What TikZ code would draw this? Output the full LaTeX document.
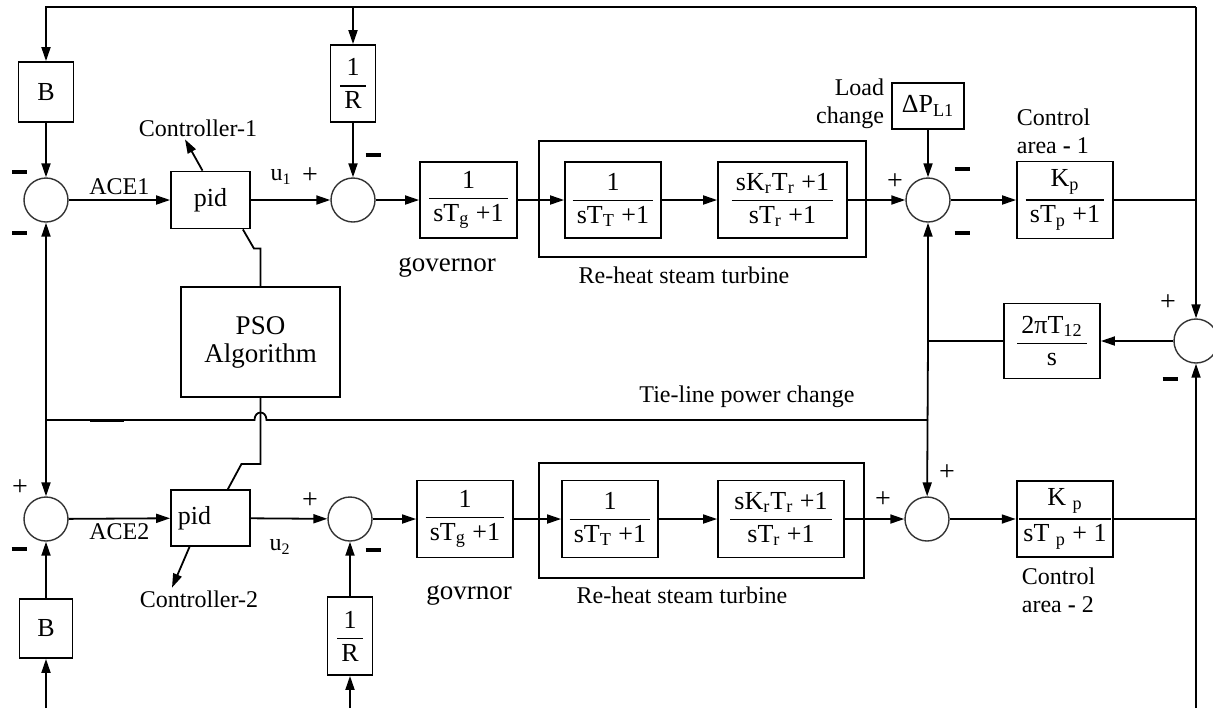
\documentclass[tikz,border=0pt]{standalone}
\usepackage{amsmath}
\usepackage{fontspec}
\setmainfont{Liberation Serif}
\usetikzlibrary{arrows.meta,positioning}

\newcommand{\frc}[2]{$\genfrac{}{}{0.8pt}{0}{\text{\,#1\,}}{\text{\,#2\,}}$}
\newcommand{\mns}{\rule{7.5pt}{1.9pt}}

\tikzset{
  blk/.style={draw, line width=0.9pt, inner sep=0pt, font=\fontsize{13}{15}\selectfont},
  sumc/.style={draw=black!80, circle, line width=0.7pt, minimum size=22pt, inner sep=0pt},
  lbl/.style={font=\fontsize{12}{14}\selectfont, inner sep=1pt},
  biglbl/.style={font=\fontsize{13.5}{15}\selectfont, inner sep=1pt},
  sgn/.style={font=\fontsize{14}{14}\selectfont, inner sep=0pt},
}

\begin{document}
\begin{tikzpicture}[x=0.5pt, y=-0.5pt, line width=0.9pt, >={Triangle[length=7pt,width=4.5pt]}]
\useasboundingbox (0,0) rectangle (1213,708);

% corners of the outer feedback loop
\coordinate (tl) at (46,7);
\coordinate (tm) at (353,7);
\coordinate (tr) at (1196,7);
\coordinate (bl) at (46,708);
\coordinate (bm) at (350,708);
\coordinate (br) at (1196,708);

% control area 1
\node[blk, minimum width=27.5pt, minimum height=30pt] (b1) at (46,92) {B};
\node[sumc] (s1) at (46,200) {};
\node[blk, minimum width=39.5pt, minimum height=28.5pt] (pid1) at (210.5,200) {pid};
\node[blk, minimum width=22.5pt, minimum height=38.5pt] (r1) at (353,83.5) {\frc{1}{R}};
\node[sumc] (s2) at (353,200) {};
\node[blk, minimum width=48.5pt, minimum height=38pt] (g1) at (468.5,200) {\frc{1}{sT\textsubscript{g} +1}};
\node[blk, minimum width=163.5pt, minimum height=58pt] (tb1) at (702.5,199) {};
\node[blk, minimum width=48pt, minimum height=38pt] (t1) at (613,200) {\frc{1}{sT\textsubscript{T} +1}};
\node[blk, minimum width=64.5pt, minimum height=38pt] (rh1) at (782.5,200) {\frc{sK\textsubscript{r}T\textsubscript{r} +1}{sT\textsubscript{r} +1}};
\node[blk, minimum width=36pt, minimum height=23pt] (dpl1) at (928,106) {ΔP\textsubscript{L1}};
\node[sumc] (s3) at (928,200) {};
\node[blk, minimum width=48pt, minimum height=38.5pt] (kp1) at (1065,200) {\frc{K\textsubscript{p}}{sT\textsubscript{p} +1}};

% optimiser and tie line
\node[blk, font=\fontsize{13.5}{15}\selectfont, align=center, minimum width=79.5pt, minimum height=55pt] (pso) at (260.5,342) {PSO\\[-1pt]Algorithm};
\node[blk, minimum width=48pt, minimum height=37.5pt] (tie) at (1052,341) {\frc{2πT\textsubscript{12}}{s}};
\node[sumc] (s7) at (1196,341) {};

% control area 2
\node[sumc] (s5) at (46,519) {};
\node[blk, minimum width=39.5pt, minimum height=28pt] (pid2) at (210.5,518) {pid\rule{16pt}{0pt}};
\node[sumc] (s6) at (350,519) {};
\node[blk, minimum width=22.5pt, minimum height=39pt] (r2) at (350,636) {\frc{1}{R}};
\node[blk, minimum width=26.5pt, minimum height=29.5pt] (b2) at (46,628.5) {B};
\node[blk, minimum width=48pt, minimum height=38.5pt] (g2) at (465,519) {\frc{1}{sT\textsubscript{g} +1}};
\node[blk, minimum width=162.5pt, minimum height=57.5pt] (tb2) at (701.5,520.5) {};
\node[blk, minimum width=48pt, minimum height=38.5pt] (t2) at (610,519) {\frc{1}{sT\textsubscript{T} +1}};
\node[blk, minimum width=63pt, minimum height=38.5pt] (rh2) at (781,519) {\frc{sK\textsubscript{r}T\textsubscript{r} +1}{sT\textsubscript{r} +1}};
\node[sumc] (s4) at (927,519) {};
\node[blk, minimum width=48pt, minimum height=38pt] (kp2) at (1065,519) {\frc{K \textsubscript{p}}{sT \textsubscript{p} + 1}};

% labels
\node[lbl] (c1) at (198,128) {Controller-1};
\node[lbl] (c2) at (199,599) {Controller-2};
\node[lbl] (u1) at (281,177) {u\textsubscript{1}};
\node[lbl] (u2) at (280,547) {u\textsubscript{2}};
\node[biglbl] (gl1) at (447,267) {governor};
\node[lbl] (tl1) at (684,275) {Re-heat steam turbine};
\node[biglbl] (gl2) at (469,595) {govrnor};
\node[lbl] (tl2) at (682,595) {Re-heat steam turbine};
\node[lbl, align=right, anchor=east] (ld1) at (887,104) {Load\\change};
\node[lbl, align=left, anchor=west] (ca1) at (1014,131) {Control\\area \textbf{-} 1};
\node[lbl, align=left, anchor=west] (ca2) at (1019,590) {Control\\area \textbf{-} 2};
\node[lbl] (tlp) at (747,397) {Tie-line power change};

% signs at the summing points
\node[sgn] (m1a) at (19.5,172) {\mns};
\node[sgn] (m1b) at (19.5,233) {\mns};
\node[sgn] (p2a) at (310,176) {+};
\node[sgn] (m2a) at (373,155) {\mns};
\node[sgn] (p3a) at (895,182) {+};
\node[sgn] (m3a) at (962,169) {\mns};
\node[sgn] (m3b) at (962,233) {\mns};
\node[sgn] (p7a) at (1168,303) {+};
\node[sgn] (m7a) at (1170,379) {\mns};
\node[sgn] (p5a) at (20,488) {+};
\node[sgn] (m5a) at (19,549) {\mns};
\node[sgn] (p6a) at (310,501) {+};
\node[sgn] (m6a) at (373,550) {\mns};
\node[sgn] (p4a) at (883,500) {+};
\node[sgn] (p4b) at (947,473) {+};
\node[sgn] (mtl) at (107,420) {\rule{17pt}{1.5pt}};

% outer loop
\draw[->] (tr) -- (tl) -- (b1);
\draw[->] (tm) -- (r1);
\draw[->] (tr) -- (s7);
\draw[->] (br) -- (s7);
\draw[->] (bl) -- (b2);
\draw[->] (bm) -- (r2);

% area 1 path
\draw[->] (b1) -- (s1);
\draw[->] (s1) -- node[lbl, above=1pt] (ace1) {ACE1} (pid1);
\draw[->] (pid1) -- (s2);
\draw[->] (r1) -- (s2);
\draw[->] (s2) -- (g1);
\draw[->] (g1) -- (t1);
\draw[->] (t1) -- (rh1);
\draw[->] (rh1) -- (s3);
\draw[->] (dpl1) -- (s3);
\draw[->] (s3) -- (kp1);
\draw (kp1.east) -- (kp1.east -| tr);

% tie line
\coordinate (tlr) at (928,420);
\coordinate (tll) at (46,420);
\coordinate (hpa) at (266.5,420);
\coordinate (hpb) at (254.5,420);
\draw[->] (s7) -- (tie);
\draw (tie.west) -- (tie.west -| s3) coordinate (tj);
\draw[->] (tj) -- (s3);
\draw[->] (tj) -- (s4);
\draw (tlr) -- (hpa) .. controls (266.5,410) and (254.5,410) .. (hpb) -- (tll);
\draw[->] (tll) -- (s1);
\draw[->] (tll) -- (s5);

% area 2 path
\draw[->] (b2) -- (s5);
\draw[->] (s5) -- node[lbl, below=1pt] (ace2) {ACE2} (pid2);
\draw[->] (pid2) -- (s6);
\draw[->] (r2) -- (s6);
\draw[->] (s6) -- (g2);
\draw[->] (g2) -- (t2);
\draw[->] (t2) -- (rh2);
\draw[->] (rh2) -- (s4);
\draw[->] (s4) -- (kp2);
\draw (kp2.east) -- (kp2.east -| br);

% PSO tuning links
\draw ([xshift=-4pt]pid1.south east) -- ++(11,19) -| (pso.north);
\draw (pso.south) -- ++(0,66) -- ++(-19,0) -- ([xshift=-11.5pt]pid2.north east);
\draw[->] ([xshift=-4pt]pid1.north) -- ([xshift=-6.5pt]c1.south);
\draw[->] ([xshift=-10.5pt]pid2.south) -- ([xshift=-13.5pt]c2.north);
\end{tikzpicture}
\end{document}
